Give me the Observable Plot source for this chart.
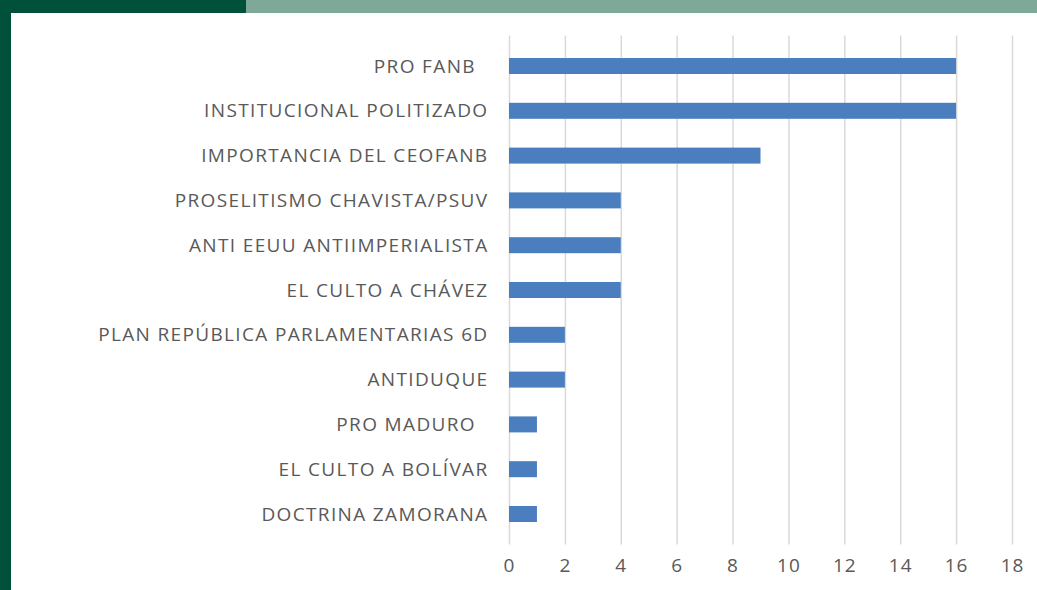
<!DOCTYPE html>
<html>
<head>
<meta charset="utf-8">
<script src="https://cdn.jsdelivr.net/npm/d3@7"></script>
<script src="https://cdn.jsdelivr.net/npm/@observablehq/plot@0.6"></script>
<style>
  html, body { margin: 0; padding: 0; background: #fff; }
  #wrap { position: relative; width: 1037px; height: 590px; overflow: hidden; background: #fff; }
  #topDark { position: absolute; left: 0; top: 0; width: 246px; height: 13px; background: #00503a; }
  #topLight { position: absolute; left: 246px; top: 0; width: 791px; height: 13px; background: #7ea898; }
  #leftBar { position: absolute; left: 0; top: 0; width: 11px; height: 590px; background: #00503a; }
  #chart { position: absolute; left: 0; top: 0; }
  .yax text { letter-spacing: 1.35px; }
  .xax text { letter-spacing: 1px; }
</style>
</head>
<body>
<div id="wrap">
  <div id="chart"></div>
  <div id="topDark"></div>
  <div id="topLight"></div>
  <div id="leftBar"></div>
</div>
<script>
const categories = [
  "PRO FANB\u00a0\u00a0",
  "INSTITUCIONAL POLITIZADO",
  "IMPORTANCIA DEL CEOFANB",
  "PROSELITISMO CHAVISTA/PSUV",
  "ANTI EEUU ANTIIMPERIALISTA",
  "EL CULTO A CHÁVEZ",
  "PLAN REPÚBLICA PARLAMENTARIAS 6D",
  "ANTIDUQUE",
  "PRO MADURO\u00a0\u00a0",
  "EL CULTO A BOLÍVAR",
  "DOCTRINA ZAMORANA"
];
const values = [16, 16, 9, 4, 4, 4, 2, 2, 1, 1, 1];
const xTicks = [0, 2, 4, 6, 8, 10, 12, 14, 16, 18];

const data = categories.map((c, i) => ({category: c, value: values[i]}));

const chart = Plot.plot({
  width: 1037,
  height: 590,
  marginLeft: 509,
  marginRight: 25,
  marginTop: 35.6,
  marginBottom: 45.6,
  style: {fontFamily: "'Open Sans', sans-serif", fontSize: "16px", color: "#595959", background: "transparent"},
  x: {domain: [0, 18], ticks: xTicks, label: null},
  y: {domain: categories, paddingInner: 0.643, paddingOuter: 0.5, round: false, label: null},
  marks: [
    Plot.ruleX(xTicks, {stroke: "#d9d9d9", strokeWidth: 1.5}),
    Plot.barX(data, {x: "value", y: "category", fill: "#4a7ebf"}),
    Plot.axisX({ticks: xTicks, tickSize: 0, tickPadding: 14, fontSize: 19, fill: "#595959", label: null, className: "xax"}),
    Plot.axisY({tickSize: 0, tickPadding: 21, fontSize: 19, fill: "#595959", label: null, className: "yax"})
  ]
});
document.getElementById("chart").appendChild(chart);
</script>
</body>
</html>
